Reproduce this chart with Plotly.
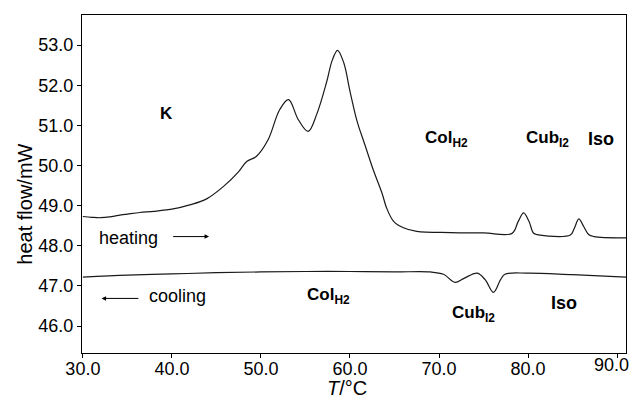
import plotly.graph_objects as go

# Heating trace (T in °C, heat flow in mW)
heat_T = [30, 31, 32, 33, 34, 35, 36.4, 38, 40.15, 42, 43.9, 45.8, 47.5, 48.4, 49.5,
          50.8, 52.1, 53.1, 54.2, 55.3, 56.3, 57.4, 58.0, 58.6, 59.3, 60.0, 60.8, 61.7,
          62.6, 63.6, 64.1, 64.9, 66.0, 67.5, 71.3, 75.0, 78.2, 78.9, 79.5, 80.1, 80.6,
          81.0, 84.75, 85.2, 85.7, 86.25, 86.8, 87.4, 91.0]
heat_Q = [48.73, 48.71, 48.70, 48.72, 48.76, 48.79, 48.83, 48.86, 48.92, 49.02, 49.17,
          49.48, 49.85, 50.10, 50.23, 50.64, 51.39, 51.64, 51.14, 50.85, 51.30, 52.10,
          52.62, 52.87, 52.56, 51.85, 51.10, 50.50, 49.90, 49.31, 48.95, 48.61, 48.45,
          48.36, 48.33, 48.32, 48.31, 48.61, 48.82, 48.61, 48.32, 48.28, 48.27, 48.44,
          48.67, 48.48, 48.28, 48.23, 48.20]

# Cooling trace
cool_T = [30, 35, 40, 45, 50, 55, 60, 65, 69.0, 70.5, 71.8, 72.8, 74.3, 75.2, 76.1,
          76.9, 77.4, 79.9, 85, 91]
cool_Q = [47.22, 47.27, 47.30, 47.33, 47.35, 47.36, 47.36, 47.35, 47.35, 47.29, 47.09,
          47.19, 47.32, 47.15, 46.84, 47.15, 47.29, 47.32, 47.28, 47.22]

x_ticks = [30, 40, 50, 60, 70, 80, 90]
x_ticklabels = ["30.0", "40.0", "50.0", "60.0", "70.0", "80.0", "90.0"]
y_ticks = [46, 47, 48, 49, 50, 51, 52, 53]

FONT = "Liberation Sans, Arial, Helvetica, sans-serif"

fig = go.Figure()
fig.add_trace(go.Scatter(x=heat_T, y=heat_Q, mode="lines", line=dict(color="#1a1a1a", width=1.2, shape="spline"),
                         showlegend=False, hoverinfo="skip"))
fig.add_trace(go.Scatter(x=cool_T, y=cool_Q, mode="lines", line=dict(color="#1a1a1a", width=1.2, shape="spline"),
                         showlegend=False, hoverinfo="skip"))

labels = [
    ("<b>K</b>", 39.36, 51.29, 17),
    ("<b>Col<sub>H2</sub></b>", 70.84, 50.66, 17),
    ("<b>Cub<sub>I2</sub></b>", 82.2, 50.66, 17),
    ("<b>Iso</b>", 88.2, 50.65, 18),
    ("<b>Col<sub>H2</sub></b>", 57.6, 46.74, 17),
    ("<b>Cub<sub>I2</sub></b>", 73.85, 46.3, 17),
    ("<b>Iso</b>", 84.0, 46.57, 18),
]
annotations = []
for txt, x, y, fs in labels:
    annotations.append(dict(x=x, y=y, xref="x", yref="y", text=txt, showarrow=False,
                            xanchor="center", yanchor="middle",
                            font=dict(family=FONT, size=fs, color="black")))

annotations.append(dict(x=35.15, y=48.19, xref="x", yref="y", text="heating", showarrow=False,
                        font=dict(family=FONT, size=18, color="black")))
annotations.append(dict(x=40.6, y=46.74, xref="x", yref="y", text="cooling", showarrow=False,
                        font=dict(family=FONT, size=18, color="black")))
# arrows
annotations.append(dict(x=44.17, y=48.23, ax=39.97, ay=48.23, xref="x", yref="y", axref="x", ayref="y",
                        text="", showarrow=True, arrowhead=2, arrowsize=0.9, arrowwidth=1, arrowcolor="black"))
annotations.append(dict(x=32.1, y=46.69, ax=36.4, ay=46.69, xref="x", yref="y", axref="x", ayref="y",
                        text="", showarrow=True, arrowhead=2, arrowsize=0.9, arrowwidth=1, arrowcolor="black"))
# last x tick label: shifted left so it fits inside the page like in the original
annotations.append(dict(x=0.9735, y=-0.036, xref="paper", yref="paper", text=x_ticklabels[-1],
                        showarrow=False, xanchor="center", yanchor="middle",
                        font=dict(family=FONT, size=18, color="black")))
# axis titles
annotations.append(dict(x=-0.104, y=0.44, xref="paper", yref="paper", text="heat flow/mW", textangle=-90,
                        showarrow=False, xanchor="center", yanchor="middle",
                        font=dict(family=FONT, size=20, color="black")))
annotations.append(dict(x=0.487, y=-0.105, xref="paper", yref="paper", text="<i>T</i>/°C",
                        showarrow=False, xanchor="center", yanchor="middle",
                        font=dict(family=FONT, size=20, color="black")))

axis_common = dict(showline=True, linecolor="black", linewidth=1, mirror=True, ticks="outside",
                   ticklen=4, tickcolor="black", showgrid=False, zeroline=False,
                   tickfont=dict(family=FONT, size=18, color="black"))

fig.update_layout(
    width=629, height=401,
    margin=dict(l=82, r=3, t=15, b=48),
    paper_bgcolor="white", plot_bgcolor="white",
    xaxis=dict(range=[29.9, 91.0], tickvals=x_ticks, ticktext=x_ticklabels[:-1] + [""],
               ticklabelstandoff=-5, **axis_common),
    yaxis=dict(range=[45.33, 53.75], tickvals=y_ticks, tickformat=".1f", **axis_common),
    annotations=annotations,
)

fig.write_html("out.html")
